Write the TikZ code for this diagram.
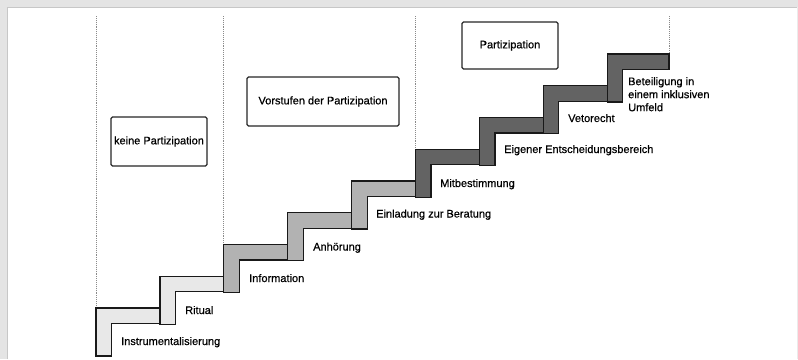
\documentclass[tikz,border=0pt]{standalone}
\usepackage{fontspec}
\setmainfont{Liberation Sans}[FakeBold=0.6]
\definecolor{lightstep}{HTML}{E8E8E8}
\definecolor{midstep}{HTML}{B2B2B2}
\definecolor{darkstep}{HTML}{636363}
\definecolor{framegray}{HTML}{E4E4E4}
\definecolor{dotgray}{HTML}{8A8A8A}
\tikzset{
  stepshape/.style={draw=black!90, line width=1.2pt, line join=miter},
  phasebox/.style={draw=black!85, line width=1.1pt, rounded corners=1.5pt, fill=white,
    inner sep=0pt, font=\fontsize{11}{13}\selectfont},
  steplabel/.style={inner sep=0pt, anchor=base west, font=\fontsize{11}{13}\selectfont},
  divider/.style={draw=dotgray, line width=0.9pt, densely dotted}
}
\begin{document}
\begin{tikzpicture}[x=1pt,y=-1pt]
\useasboundingbox (0,0) rectangle (798,359);
% frame shadow
\fill[framegray] (0,0) rectangle (798,7);
\fill[framegray] (0,0) rectangle (7,359);
\draw[black!22, line width=0.8pt] (7,359) -- (7,7) -- (798,7);
\draw[black!8, line width=0.6pt] (797,7) -- (797,359);
% dotted dividers
\coordinate (d0t) at (96,16);   \coordinate (d0b) at (96,308);
\coordinate (d1t) at (223.8,16); \coordinate (d1b) at (223.8,244);
\coordinate (d2t) at (415.5,16); \coordinate (d2b) at (415.5,149);
\coordinate (d3t) at (669,16);  \coordinate (d3b) at (669,54);
\draw[divider] (d0t) -- (d0b);
\draw[divider] (d1t) -- (d1b);
\draw[divider] (d2t) -- (d2b);
\draw[divider] (d3t) -- (d3b);
% steps
\foreach \i/\col in {0/lightstep,1/lightstep,2/midstep,3/midstep,4/midstep,5/darkstep,6/darkstep,7/darkstep,8/darkstep}{
  \pgfmathsetmacro\X{96+63.9*\i}
  \pgfmathsetmacro\Y{308-31.75*\i}
  \pgfmathsetmacro\XR{\i==8 ? 669 : 96+63.9*(\i+1)}
  \draw[stepshape, fill=\col] (\X,\Y+48) -- (\X,\Y) -- (\XR,\Y) -- (\XR,\Y+15.5)
     -- (\X+15.5,\Y+15.5) -- (\X+15.5,\Y+48) -- cycle;
}
% phase boxes
\node[phasebox, minimum width=96pt, minimum height=49pt] (keine) at (159,141.5) {keine Partizipation};
\node[phasebox, minimum width=152pt, minimum height=49pt] (vorstufen) at (323,101.5) {Vorstufen der Partizipation};
\node[phasebox, minimum width=96pt, minimum height=47pt] (partizipation) at (510,45.5) {Partizipation};
% step labels
\node[steplabel] (l0) at (121,345) {Instrumentalisierung};
\node[steplabel] (l1) at (185,314) {Ritual};
\node[steplabel] (l2) at (249,282) {Information};
\node[steplabel] (l3) at (313,250.5) {Anhörung};
\node[steplabel] (l4) at (376,217.5) {Einladung zur Beratung};
\node[steplabel] (l5) at (440,187) {Mitbestimmung};
\node[steplabel] (l6) at (504,153) {Eigener Entscheidungsbereich};
\node[steplabel] (l7) at (568,122) {Vetorecht};
\node[inner sep=0pt, anchor=north west, align=left, font=\fontsize{11}{13}\selectfont] (l8) at (628,77) {Beteiligung in\\einem inklusiven\\Umfeld};
\end{tikzpicture}
\end{document}
